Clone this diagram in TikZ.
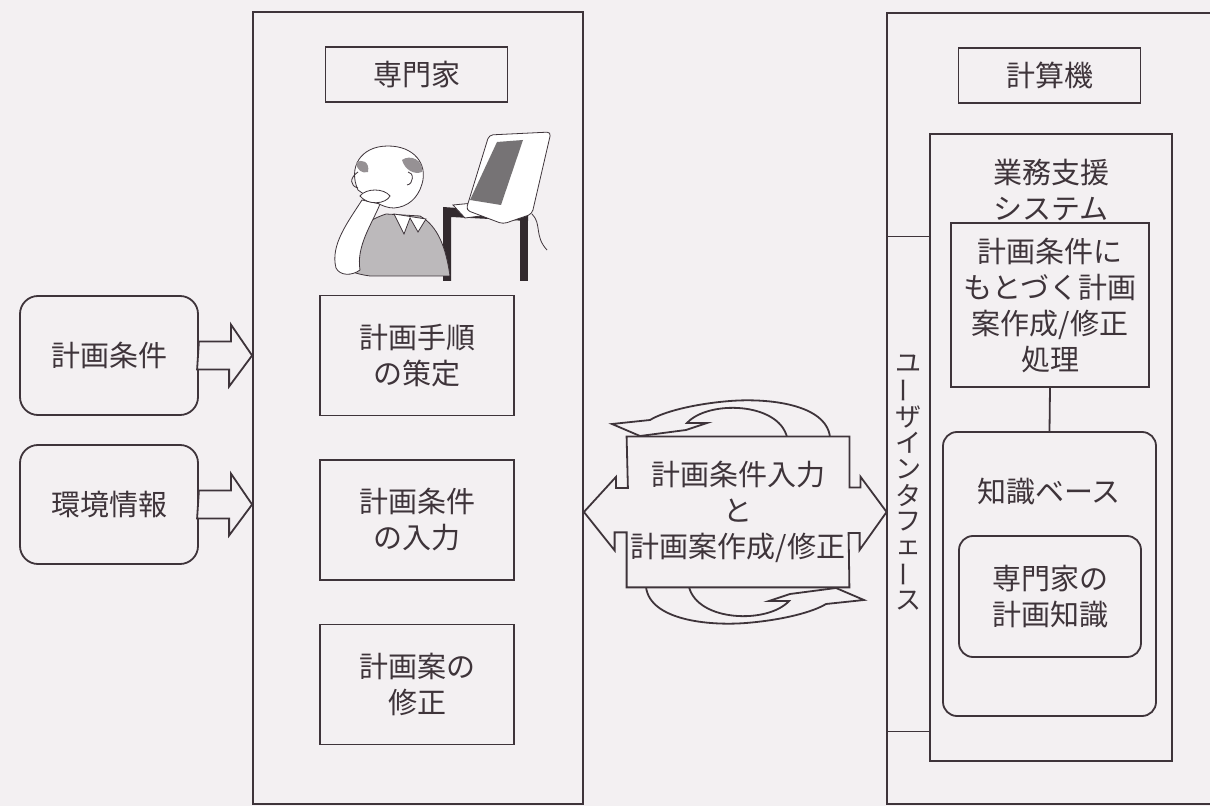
\documentclass[tikz,border=0pt]{standalone}
\usepackage{fontspec}
\setmainfont{Noto Sans CJK JP}
\usetikzlibrary{calc, positioning}
\definecolor{paper}{RGB}{243,240,242}
\definecolor{ink}{RGB}{62,52,58}
\definecolor{shirt}{RGB}{188,185,187}
\definecolor{screen}{RGB}{118,115,117}
\tikzstyle{frame}=[draw=ink, line width=0.9pt, rectangle, inner sep=2pt]
\tikzstyle{title-box}=[frame, minimum width=91pt, minimum height=27.5pt]
\tikzstyle{step-box}=[frame, minimum width=97pt, minimum height=60pt]
\tikzstyle{info-box}=[frame, rounded corners=9pt, minimum width=89pt, minimum height=59.5pt]
\tikzstyle{block-arrow}=[draw=ink, line width=0.9pt, fill=paper, line join=miter]
\tikzstyle{thin}=[draw=ink, line width=0.4pt]
\newcommand{\chouon}{\rotatebox[origin=c]{90}{ー}}
\tikzset{turn-arrow/.pic={
  \draw[block-arrow] (92,-75) .. controls (88,-108) and (30,-114) .. (-8,-111)
    .. controls (-45,-108) and (-75,-100) .. (-88,-92)
    -- (-126,-88) -- (-98,-76) -- (-52,-82) -- (-31,-89) -- (-51,-89)
    .. controls (-30,-112) and (40,-110) .. (49,-75) -- cycle;
}}

\begin{document}
\begin{tikzpicture}[x=0.5pt, y=-0.5pt,
  every node/.style={text=ink, align=center, font=\fontsize{14.5}{18}\selectfont}]
\useasboundingbox (0,0) rectangle (1210,806);
\fill[paper] (0,0) rectangle (1210,806);

% expert
\node[frame, minimum width=165pt, minimum height=396pt] (expert) at (418,408) {};
\node[title-box] (expert-title) at (416.5,74.5) {専門家};
\node[step-box] (procedure) at (417,355.5) {計画手順\\の策定};
\node[step-box] (entry) at (417,520) {計画条件\\の入力};
\node[step-box] (revise) at (417,684.5) {計画案の\\修正};

% man at the desk
\fill[ink!80!black] (443,207) -- (528,213) -- (528,221) -- (451,217) -- (451,281) -- (443,281) -- cycle;
\fill[ink!80!black] (520,217) -- (528,217) -- (528,281) -- (520,281) -- cycle;
\filldraw[thin, fill=white] (453,205) -- (484,202) -- (496,214) -- (465,218) -- cycle;
\filldraw[thin, fill=white, rounded corners=2pt] (489,135) -- (551,132) -- (532,214) -- (503,224) -- (466,210) -- cycle;
\fill[screen] (497,142) -- (523,140) -- (501,205) -- (470,200) -- cycle;
\draw[thin] (532,214) .. controls (542,224) and (534,236) .. (547,250);
\filldraw[thin, fill=shirt] (342,262) .. controls (345,238) and (362,222) .. (386,214) -- (420,216)
  .. controls (438,226) and (446,248) .. (450,276) -- (370,276) .. controls (355,274) and (344,270) .. (342,262) -- cycle;
\filldraw[thin, fill=white] (336,268) .. controls (330,245) and (348,222) .. (362,200) -- (380,204)
  .. controls (372,224) and (356,246) .. (360,270) .. controls (352,276) and (340,276) .. (336,268) -- cycle;
\filldraw[thin, fill=white] (358,190) .. controls (348,168) and (360,146) .. (388,146)
  .. controls (414,146) and (428,164) .. (422,184) .. controls (418,198) and (408,207) .. (394,208)
  .. controls (382,208) and (372,200) .. (358,190) -- cycle;
\draw[thin] (358,172) .. controls (349,178) and (350,186) .. (358,188);
\fill[shirt!70!ink] (356,163) .. controls (362,158) and (370,162) .. (368,172) .. controls (362,174) and (357,170) .. (356,163);
\fill[shirt!70!ink] (402,160) .. controls (410,154) and (424,160) .. (422,172) .. controls (414,175) and (405,170) .. (402,160);
\draw[thin] (408,172) .. controls (414,172) and (414,184) .. (407,185);
\filldraw[thin, fill=white] (360,196) .. controls (366,188) and (384,188) .. (390,196) .. controls (386,204) and (368,206) .. (360,196) -- cycle;
\filldraw[thin, fill=white] (394,214) -- (404,234) -- (410,218) -- (418,232) -- (426,219) -- cycle;

% inputs
\node[info-box] (cond) at (109,355.5) {計画条件};
\node[info-box] (env) at (109,504.5) {環境情報};
\draw[block-arrow] (cond.east) ++(0,-14) -- ++(32,0) -- ++(0,-17) -- (cond.east -| expert.west)
  -- ++(-23,31) -- ++(0,-17) -- ++(-32,0) -- cycle;
\draw[block-arrow] (env.east) ++(0,-14) -- ++(32,0) -- ++(0,-17) -- (env.east -| expert.west)
  -- ++(-23,31) -- ++(0,-17) -- ++(-32,0) -- cycle;

% computer
\draw[draw=ink, line width=0.9pt] (1212,13) -- (887,13) -- (887,804) -- (1212,804);
\node[title-box] (computer-title) at (1049.5,75.5) {計算機};
\node[frame, minimum width=121pt, minimum height=313.5pt] (support) at (1051,447.5) {};
\node (support-title) at (1051,190) {業務支援\\システム};
\node[frame, minimum width=99pt, minimum height=82pt] (planner) at (1050,305) {計画条件に\\もとづく計画\\案作成/修正\\処理};
\node[frame, rounded corners=7pt, minimum width=106.5pt, minimum height=142pt] (kbase) at (1049.5,574) {};
\node (kbase-title) at (1049,492) {知識ベース};
\node[frame, rounded corners=7pt, minimum width=91pt, minimum height=60.5pt] (know) at (1050,596.5) {専門家の\\計画知識};
\draw[draw=ink, line width=0.9pt] (planner.south) -- (kbase.north);

% user interface
\node[minimum width=21.5pt, minimum height=247pt, inner sep=0pt] (ui) at (908.5,484) {};
\draw[draw=ink, line width=0.9pt] (ui.north west) -- (ui.north east);
\draw[draw=ink, line width=0.9pt] (ui.south west) -- (ui.south east);
\foreach \ch [count=\i] in {ユ,\chouon,ザ,イ,ン,タ,フ,ェ,\chouon,ス}
  \node[font=\fontsize{13}{13}\selectfont] (ui-\i) at (908,{364+26.3*(\i-1)}) {\ch};

% dialogue
\node[minimum width=111pt, minimum height=75pt, inner sep=0pt] (talk) at (738,512) {};
\pic at (talk.center) {turn-arrow};
\pic[rotate=180] at (talk.center) {turn-arrow};
\draw[block-arrow] (talk.north west) -- (talk.north east) -- ++(0,51) -- ++(11,0) -- ++(0,-11)
  -- (ui.west |- talk.center) -- ++(-27,38) -- ++(0,-17) -- ++(-11,0) -- (talk.south east)
  -- (talk.south west) -- ++(0,-55) -- ++(-12,0) -- ++(0,18) -- (expert.east |- talk.center)
  -- ++(32,-35) -- ++(0,11) -- ++(12,0) -- cycle;
\node (talk-text) at (talk.center) {計画条件入力\\と\\計画案作成/修正};
\end{tikzpicture}
\end{document}
